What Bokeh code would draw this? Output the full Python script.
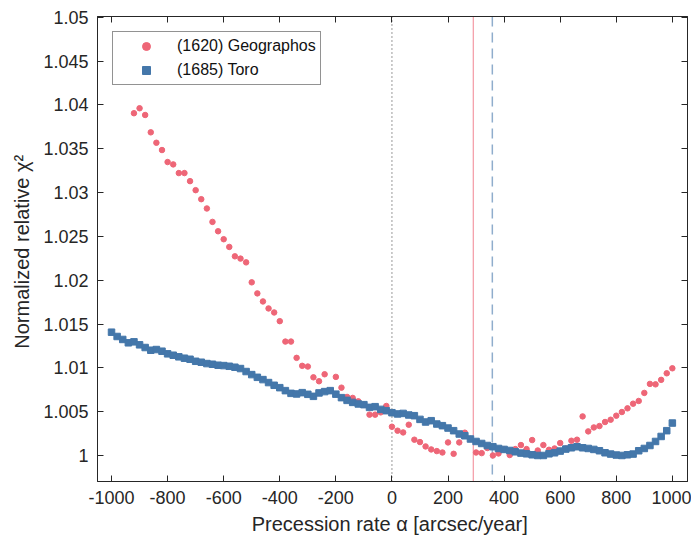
from bokeh.plotting import figure
from bokeh.models import (Span, Legend, LegendItem, FixedTicker, LinearAxis,
                          CustomJSTickFormatter, Range1d)
from bokeh.embed import file_html
from bokeh.resources import INLINE

# ---------------- data ----------------
geo_x = [-920, -900, -880, -860, -840, -820, -800, -780, -760, -740, -720, -700,
         -680, -660, -640, -620, -600, -580, -560, -540, -520, -500, -480, -460,
         -440, -420, -400, -380, -360, -340, -320, -300, -280, -260, -240, -220,
         -200, -180, -160, -140, -120, -100, -80, -60, -40, -20, 0, 20, 40, 60,
         80, 100, 120, 140, 160, 180, 200, 220, 240, 260, 280, 300, 320, 340,
         360, 380, 400, 420, 440, 460, 480, 500, 520, 540, 560, 580, 600, 620,
         640, 660, 680, 700, 720, 740, 760, 780, 800, 820, 840, 860, 880, 900,
         920, 940, 960, 980, 1000]
geo_y = [1.03906, 1.03963, 1.03886, 1.03688, 1.03569, 1.03486, 1.03349, 1.03322,
         1.03223, 1.03223, 1.03131, 1.03028, 1.02925, 1.02819, 1.02666, 1.02559,
         1.02468, 1.02380, 1.02273, 1.02247, 1.02204, 1.01976, 1.01850, 1.01758,
         1.01678, 1.01632, 1.01533, 1.01300, 1.01300, 1.01114, 1.01023, 1.01015,
         1.00892, 1.00847, 1.00927, 1.00740, 1.00897, 1.00774, 1.00668, 1.00657,
         1.00618, 1.00580, 1.00466, 1.00466, 1.00492, 1.00565, 1.00328, 1.00283,
         1.00263, 1.00351, 1.00180, 1.00153, 1.00103, 1.00069, 1.00050, 1.00034,
         1.00149, 1.00019, 1.00149, 1.00260, 1.00190, 1.00034, 1.00027, 1.00085,
         1.00000, 1.00023, 1.00070, 1.00005, 1.00073, 1.00119, 1.00073, 1.00176,
         1.00057, 1.00119, 1.00065, 1.00080, 1.00142, 1.00080, 1.00168, 1.00180,
         1.00446, 1.00275, 1.00320, 1.00336, 1.00382, 1.00408, 1.00454, 1.00496,
         1.00538, 1.00591, 1.00622, 1.00714, 1.00817, 1.00812, 1.00863, 1.00938,
         1.00995]

toro_x = [-1000, -980, -960, -940, -920, -900, -880, -860, -840, -820, -800,
          -780, -760, -740, -720, -700, -680, -660, -640, -620, -600, -580,
          -560, -540, -520, -500, -480, -460, -440, -420, -400, -380, -360,
          -340, -320, -300, -280, -260, -240, -220, -200, -180, -160, -140,
          -120, -100, -80, -60, -40, -20, 0, 20, 40, 60, 80, 100, 120, 140,
          160, 180, 200, 220, 240, 260, 280, 300, 320, 340, 360, 380, 400,
          420, 440, 460, 480, 500, 520, 540, 560, 580, 600, 620, 640, 660,
          680, 700, 720, 740, 760, 780, 800, 820, 840, 860, 880, 900, 920,
          940, 960, 980, 1000]
toro_y = [1.01407, 1.01358, 1.01324, 1.01286, 1.01297, 1.01263, 1.01232, 1.01201,
          1.01209, 1.01190, 1.01160, 1.01144, 1.01126, 1.01110, 1.01098, 1.01075,
          1.01064, 1.01049, 1.01041, 1.01030, 1.01026, 1.01018, 1.01007, 1.00992,
          1.00958, 1.00923, 1.00892, 1.00866, 1.00832, 1.00801, 1.00774, 1.00740,
          1.00709, 1.00702, 1.00717, 1.00698, 1.00675, 1.00714, 1.00729, 1.00740,
          1.00700, 1.00660, 1.00629, 1.00606, 1.00588, 1.00580, 1.00549, 1.00557,
          1.00526, 1.00511, 1.00488, 1.00474, 1.00480, 1.00462, 1.00454, 1.00412,
          1.00382, 1.00397, 1.00359, 1.00340, 1.00313, 1.00283, 1.00245, 1.00225,
          1.00188, 1.00160, 1.00137, 1.00114, 1.00100, 1.00080, 1.00069, 1.00057,
          1.00042, 1.00027, 1.00019, 1.00008, 1.00000, 1.00000, 1.00019, 1.00031,
          1.00050, 1.00073, 1.00088, 1.00100, 1.00088, 1.00080, 1.00069, 1.00054,
          1.00031, 1.00016, 1.00005, 1.00000, 1.00008, 1.00016, 1.00054, 1.00080,
          1.00114, 1.00160, 1.00217, 1.00283, 1.00370]

x_ticks = [-1000, -800, -600, -400, -200, 0, 200, 400, 600, 800, 1000]
y_ticks = [1.0, 1.005, 1.01, 1.015, 1.02, 1.025, 1.03, 1.035, 1.04, 1.045, 1.05]

zero_line = 0
geo_line = 290
toro_line = 358

series_names = ["(1620) Geographos", "(1685) Toro"]

# ---------------- figure ----------------
INK = "#262626"
FONT = "Liberation Sans"

p = figure(width=691, height=540, output_backend="svg", toolbar_location=None,
           x_range=Range1d(-1050, 1054), y_range=Range1d(0.99703, 1.0501),
           min_border_left=97, min_border_right=4, min_border_top=16,
           min_border_bottom=59)
p.xgrid.visible = False
p.ygrid.visible = False
p.outline_line_color = INK
p.outline_line_width = 1
p.outline_line_alpha = 1
p.background_fill_color = "white"
p.border_fill_color = "white"

for ax in (p.xaxis[0], p.yaxis[0]):
    ax.major_tick_in = 6
    ax.major_tick_out = 0
    ax.minor_tick_in = 0
    ax.minor_tick_out = 0
    ax.axis_line_color = INK
    ax.major_tick_line_color = INK
    ax.major_label_text_font = FONT
    ax.major_label_text_font_size = "18px"
    ax.major_label_text_color = INK
    ax.axis_label_text_font = FONT
    ax.axis_label_text_font_style = "normal"
    ax.axis_label_text_font_size = "20px"
    ax.axis_label_text_color = INK

p.xaxis[0].ticker = FixedTicker(ticks=x_ticks)
p.yaxis[0].ticker = FixedTicker(ticks=y_ticks)
p.xaxis[0].formatter = CustomJSTickFormatter(code="return String(Math.round(tick));")
p.yaxis[0].formatter = CustomJSTickFormatter(code="return (+tick.toFixed(3)).toString();")
p.xaxis[0].major_label_standoff = 9
p.xaxis[0].axis_label_standoff = 6
p.yaxis[0].major_label_standoff = 9
p.yaxis[0].axis_label_standoff = 7
p.xaxis[0].axis_label = "Precession rate  \u03b1 [arcsec/year]"
p.yaxis[0].axis_label = "Normalized relative  \u03c7\u00b2"

blank = CustomJSTickFormatter(code="return '';")
top_ax = LinearAxis(ticker=FixedTicker(ticks=x_ticks), formatter=blank,
                    major_label_standoff=0, major_label_text_font_size="0px",
                    major_tick_in=6, major_tick_out=0, minor_tick_in=0,
                    minor_tick_out=0, axis_line_color=INK,
                    major_tick_line_color=INK)
right_ax = LinearAxis(ticker=FixedTicker(ticks=y_ticks), formatter=blank,
                      major_label_standoff=0, major_label_text_font_size="0px",
                      major_tick_in=6, major_tick_out=0, minor_tick_in=0,
                      minor_tick_out=0, axis_line_color=INK,
                      major_tick_line_color=INK)
p.add_layout(top_ax, "above")
p.add_layout(right_ax, "right")

# reference lines
p.add_layout(Span(location=zero_line, dimension="height", line_color="#333333",
                  line_width=1, line_dash="1 3", level="underlay"))
p.add_layout(Span(location=geo_line, dimension="height", line_color="#EE6677",
                  line_alpha=0.8, line_width=1, level="underlay"))
p.add_layout(Span(location=toro_line, dimension="height", line_color="#4477AA",
                  line_alpha=0.6, line_width=1.5, line_dash="10 6",
                  level="underlay"))

g = p.scatter(geo_x, geo_y, marker="circle", size=5.5,
              fill_color="#EE6677", line_color="#EE6677")
t = p.scatter(toro_x, toro_y, marker="square", size=6.5,
              fill_color="#4477AA", line_color="#4477AA")

legend = Legend(items=[LegendItem(label=series_names[0], renderers=[g]),
                       LegendItem(label=series_names[1], renderers=[t])],
                location="top_left", margin=15, padding=4, spacing=4,
                glyph_width=58, glyph_height=20, label_standoff=2,
                label_height=20, label_text_font=FONT,
                label_text_font_size="16px", label_text_color="#111111",
                border_line_color=INK, border_line_width=1,
                background_fill_color="white", background_fill_alpha=1)
p.add_layout(legend)

open("out.html", "w").write(file_html(p, INLINE))
